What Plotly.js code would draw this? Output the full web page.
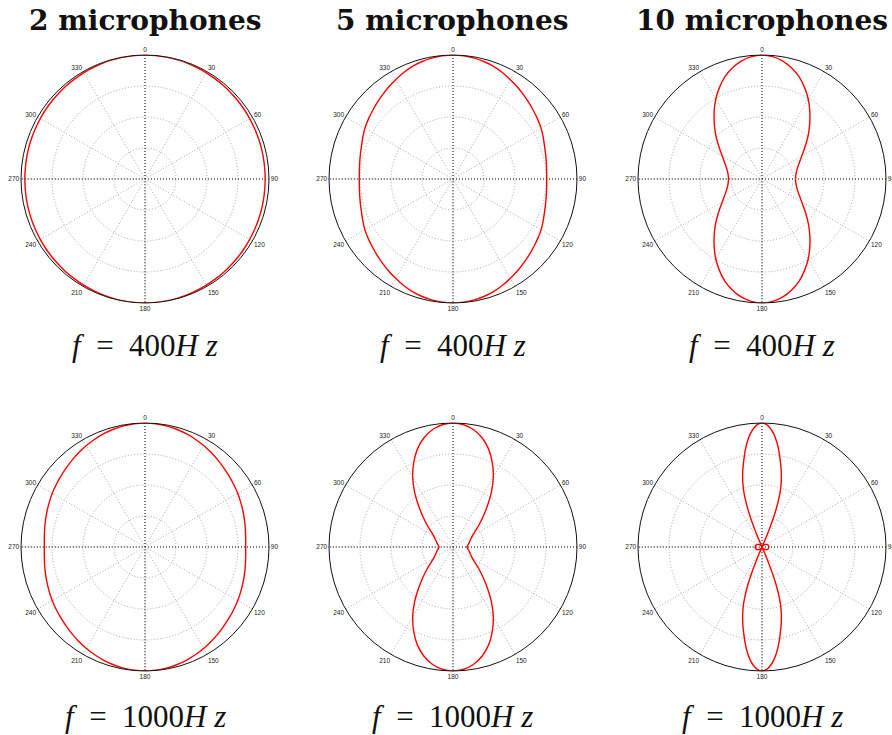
<!DOCTYPE html>
<html>
<head>
<meta charset="utf-8">
<script src="https://cdn.plot.ly/plotly-3.0.1.min.js"></script>
<style>
  html, body { margin: 0; padding: 0; background: #fff; }
  #chart { width: 892px; height: 735px; }
</style>
</head>
<body>
<div id="chart"></div>
<script>
// Beam patterns of a microphone line array (normalised magnitude).
// Each pattern is symmetric about both axes, so values are listed for one
// quadrant (0..90 deg, 0 = broadside, clockwise) and mirrored when plotted.

const columnTitles = ['2 microphones', '5 microphones', '10 microphones'];
const frequencies = ['400', '1000'];
const angleTicks = [0, 30, 60, 90, 120, 150, 180, 210, 240, 270, 300, 330];

const theta5deg = [0, 5, 10, 15, 20, 25, 30, 35, 40, 45, 50, 55, 60, 65, 70, 75, 80, 85, 90];

// f = 400 Hz
const mics2_400 = [1.000, 0.9995, 0.998, 0.996, 0.994, 0.991, 0.989, 0.986, 0.984, 0.981,
                   0.979, 0.977, 0.975, 0.973, 0.972, 0.971, 0.970, 0.969, 0.969];
const mics5_400 = [1.000, 0.997, 0.990, 0.979, 0.965, 0.946, 0.925, 0.905, 0.885, 0.867,
                   0.850, 0.835, 0.820, 0.802, 0.785, 0.773, 0.764, 0.758, 0.756];
const mics10_400 = [1.000, 0.991, 0.966, 0.926, 0.876, 0.813, 0.745, 0.672, 0.600, 0.533,
                    0.470, 0.415, 0.370, 0.336, 0.310, 0.292, 0.280, 0.273, 0.270];

// f = 1000 Hz
const mics2_1000 = [1.000, 0.998, 0.992, 0.983, 0.972, 0.959, 0.945, 0.930, 0.915, 0.900,
                    0.887, 0.875, 0.864, 0.852, 0.841, 0.831, 0.822, 0.815, 0.812];
const mics5_1000 = [1.000, 0.990, 0.960, 0.910, 0.840, 0.750, 0.650, 0.540, 0.430, 0.340,
                    0.270, 0.215, 0.180, 0.160, 0.145, 0.135, 0.125, 0.118, 0.112];

const theta10_1000 = [0, 2, 4, 6, 8, 10, 12, 14, 16, 17, 18, 19, 20, 21, 22, 23, 24,
                      27, 30, 35, 40, 45, 50, 55, 60, 65, 70, 75, 80, 85, 90];
const mics10_1000 = [1.000, 0.990, 0.960, 0.915, 0.855, 0.785, 0.710, 0.640, 0.565, 0.525,
                     0.480, 0.425, 0.360, 0.285, 0.195, 0.100, 0.000,
                     0.004, 0.008, 0.014, 0.020, 0.026, 0.032, 0.037, 0.042, 0.046,
                     0.050, 0.052, 0.054, 0.055, 0.055];

// Layout geometry of the 2 x 3 grid (pixels)
const W = 892, H = 735, R = 124;
const colX = [145, 453, 762];
const rowY = [179, 547];
const captionY = [346, 716];
const titleY = 20;

// Mirror a quadrant (0..90) into a closed 0..360 curve.
function fullCircle(th, r) {
  const T = [], V = [];
  for (let i = 0; i < th.length; i++) { T.push(th[i]); V.push(r[i]); }
  for (let i = th.length - 2; i >= 0; i--) { T.push(180 - th[i]); V.push(r[i]); }
  for (let i = 1; i < th.length; i++) { T.push(180 + th[i]); V.push(r[i]); }
  for (let i = th.length - 2; i >= 0; i--) { T.push(360 - th[i]); V.push(r[i]); }
  return { theta: T, r: V };
}

const panels = [
  { row: 0, col: 0, th: theta5deg, r: mics2_400 },
  { row: 0, col: 1, th: theta5deg, r: mics5_400 },
  { row: 0, col: 2, th: theta5deg, r: mics10_400 },
  { row: 1, col: 0, th: theta5deg, r: mics2_1000 },
  { row: 1, col: 1, th: theta5deg, r: mics5_1000 },
  { row: 1, col: 2, th: theta10_1000, r: mics10_1000 }
];

const traces = [];
const layout = {
  width: W, height: H,
  margin: { l: 0, r: 0, t: 0, b: 0 },
  paper_bgcolor: '#fff',
  showlegend: false,
  annotations: []
};

panels.forEach((p, k) => {
  const id = k === 0 ? 'polar' : 'polar' + (k + 1);
  const cx = colX[p.col], cy = rowY[p.row];

  layout[id] = {
    domain: {
      x: [(cx - R) / W, (cx + R) / W],
      y: [1 - (cy + R) / H, 1 - (cy - R) / H]
    },
    bgcolor: '#fff',
    angularaxis: {
      rotation: 90,
      direction: 'clockwise',
      tickvals: angleTicks,
      ticktext: angleTicks.map(String),
      ticks: '',
      tickfont: { family: 'Liberation Sans, Arial, sans-serif', size: 6.5, color: '#222' },
      showline: true,
      linecolor: '#111',
      linewidth: 1,
      gridcolor: '#a8a8a8',
      griddash: '1px,2px',
      gridwidth: 1
    },
    radialaxis: {
      range: [0, 1],
      tickvals: [0.25, 0.5, 0.75],
      showticklabels: false,
      ticks: '',
      showline: false,
      gridcolor: '#a8a8a8',
      griddash: '1px,2px',
      gridwidth: 1
    }
  };

  // darker dotted axes through the centre
  [[0, 180], [90, 270]].forEach(a => {
    traces.push({
      type: 'scatterpolar', subplot: id, mode: 'lines',
      theta: a, r: [1, 1],
      line: { color: '#222', width: 1, dash: '1px,2px' },
      hoverinfo: 'skip'
    });
  });

  const c = fullCircle(p.th, p.r);
  traces.push({
    type: 'scatterpolar', subplot: id, mode: 'lines',
    theta: c.theta, r: c.r,
    line: { color: '#ff0000', width: 1.4, shape: 'spline', smoothing: 0.6 },
    hoverinfo: 'skip'
  });

  // caption under each plot
  layout.annotations.push({
    xref: 'paper', yref: 'paper',
    x: cx / W, y: 1 - captionY[p.row] / H,
    xanchor: 'center', yanchor: 'middle',
    showarrow: false,
    text: '<i>f</i>\u2002=\u2002' + frequencies[p.row] + '<i>H\u2005z</i>',
    font: { family: 'Liberation Serif, Times New Roman, serif', size: 31, color: '#111' }
  });
});

// column titles
columnTitles.forEach((t, j) => {
  layout.annotations.push({
    xref: 'paper', yref: 'paper',
    x: colX[j] / W, y: 1 - titleY / H,
    xanchor: 'center', yanchor: 'middle',
    showarrow: false,
    text: '<b>' + t + '</b>',
    font: { family: 'DejaVu Serif, serif', size: 28, color: '#111' }
  });
});

Plotly.newPlot('chart', traces, layout, { staticPlot: true });
</script>
</body>
</html>
